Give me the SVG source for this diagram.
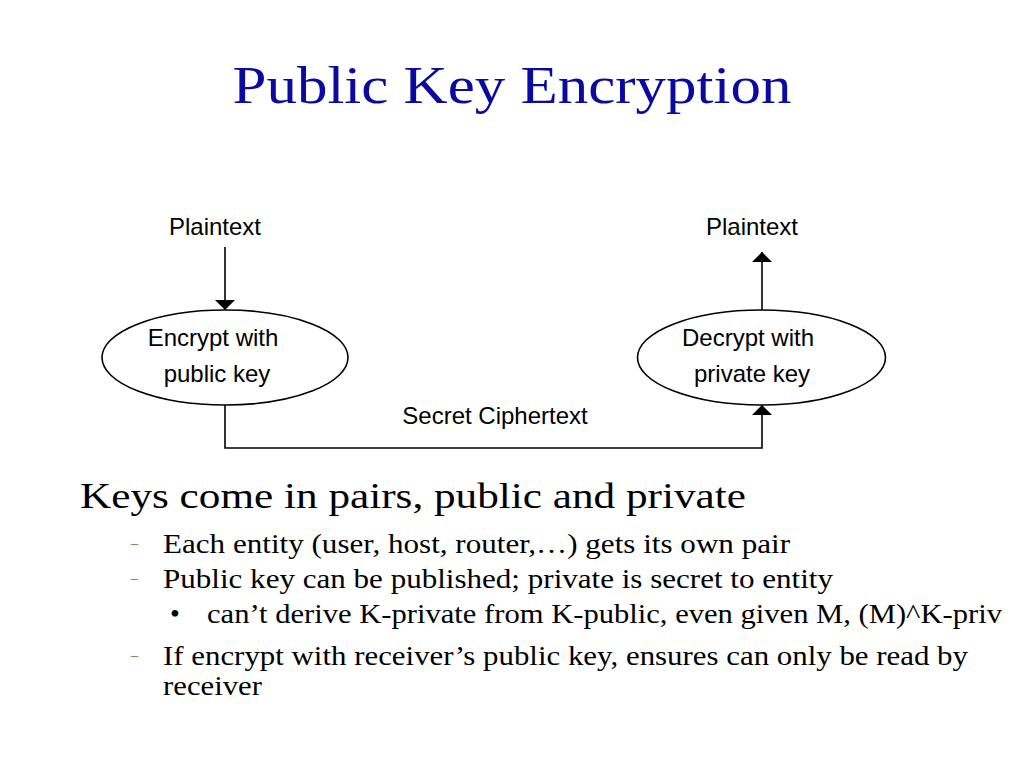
<svg xmlns="http://www.w3.org/2000/svg" width="1024" height="768" viewBox="0 0 1024 768">
<defs>
<marker id="ah" viewBox="0 0 10 20" refX="10" refY="10" markerWidth="10" markerHeight="20" markerUnits="userSpaceOnUse" orient="auto">
<path d="M0,0 L10,10 L0,20 Z" fill="#000"/>
</marker>
</defs>
<style>
.title{font-family:"Liberation Serif",serif;font-size:52px;fill:#0a0aa0}
.lbl{font-family:"Liberation Sans",Arial,sans-serif;font-size:24px;fill:#000;text-anchor:middle}
.node{fill:#fff;stroke:#000;stroke-width:1.6}
.edge{fill:none;stroke:#000;stroke-width:1.6}
.b1{font-family:"Liberation Serif",serif;font-size:35px;fill:#000}
.b2{font-family:"Liberation Serif",serif;font-size:28px;fill:#000}
.dash{font-family:"Liberation Serif",serif;font-size:14px;fill:#a0522d}
</style>
<rect width="1024" height="768" fill="#fff"/>
<text class="title" x="512" y="103" text-anchor="middle" textLength="559" lengthAdjust="spacingAndGlyphs">Public Key Encryption</text>

<g id="connectors">
<line class="edge" x1="225" y1="247" x2="225" y2="310" marker-end="url(#ah)"/>
<line class="edge" x1="762" y1="310" x2="762" y2="252" marker-end="url(#ah)"/>
<polyline class="edge" points="225,405 225,448 762,448 762,405" marker-end="url(#ah)"/>
</g>

<g id="plaintext-in"><text class="lbl" x="215" y="235">Plaintext</text></g>
<g id="plaintext-out"><text class="lbl" x="752" y="235">Plaintext</text></g>
<g id="encrypt">
<ellipse class="node" cx="225" cy="357.5" rx="123" ry="47.5"/>
<text class="lbl" x="213" y="346">Encrypt with</text>
<text class="lbl" x="217" y="382">public key</text>
</g>
<g id="decrypt">
<ellipse class="node" cx="761.5" cy="357.5" rx="124" ry="47.5"/>
<text class="lbl" x="748" y="346">Decrypt with</text>
<text class="lbl" x="752" y="382">private key</text>
</g>
<g id="ciphertext-label"><text class="lbl" x="495" y="424">Secret Ciphertext</text></g>

<text class="b1" x="80" y="508" textLength="666" lengthAdjust="spacingAndGlyphs">Keys come in pairs, public and private</text>
<text class="dash" x="131" y="548">–</text>
<text class="b2" x="163" y="553" textLength="627" lengthAdjust="spacingAndGlyphs">Each entity (user, host, router,…) gets its own pair</text>
<text class="dash" x="131" y="583">–</text>
<text class="b2" x="163" y="588" textLength="670" lengthAdjust="spacingAndGlyphs">Public key can be published; private is secret to entity</text>
<text class="b2" x="170" y="623" font-size="22">•</text>
<text class="b2" x="207" y="623" textLength="795" lengthAdjust="spacingAndGlyphs">can’t derive K-private from K-public, even given M, (M)^K-priv</text>
<text class="dash" x="131" y="660">–</text>
<text class="b2" x="163" y="665" textLength="805" lengthAdjust="spacingAndGlyphs">If encrypt with receiver’s public key, ensures can only be read by</text>
<text class="b2" x="163" y="695" textLength="99" lengthAdjust="spacingAndGlyphs">receiver</text>
</svg>
